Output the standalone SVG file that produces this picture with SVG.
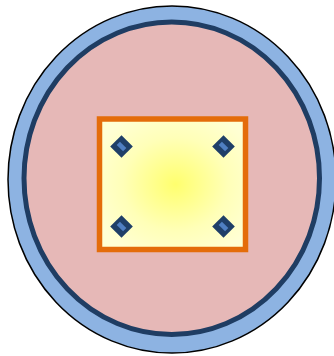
<svg xmlns="http://www.w3.org/2000/svg" width="334" height="356" viewBox="0 0 334 356">
  <defs>
    <radialGradient id="glow" cx="0.52" cy="0.5" r="0.6">
      <stop offset="0" stop-color="#ffff6e"/>
      <stop offset="0.6" stop-color="#ffffb8"/>
      <stop offset="1" stop-color="#ffffd4"/>
    </radialGradient>
    <g id="pin">
      <rect x="-8" y="-8" width="16" height="16" transform="rotate(45)" fill="#1f3f68"/>
      <rect x="-4.5" y="-2.3" width="9" height="4.6" transform="rotate(45)" fill="#4f7fc2"/>
    </g>
  </defs>
  <style>
    .outer { fill: #8db3e2; stroke: #000000; stroke-width: 1.5; }
    .inner { fill: #e6b8b7; stroke: #1f3d63; stroke-width: 5; }
    .box { fill: url(#glow); stroke: #e46c0a; stroke-width: 5.5; }
  </style>
  <rect width="334" height="356" fill="#ffffff"/>
  <g id="shell">
    <ellipse class="outer" cx="172" cy="179.5" rx="164" ry="173.5"/>
  </g>
  <g id="body">
    <ellipse class="inner" cx="171.75" cy="178.25" rx="147.75" ry="156.25"/>
  </g>
  <g id="chip">
    <rect class="box" x="99.5" y="119" width="146" height="130.5"/>
  </g>
  <g id="pins">
    <use href="#pin" x="121.5" y="146.5"/>
    <use href="#pin" x="223.5" y="146.5"/>
    <use href="#pin" x="121.5" y="226.5"/>
    <use href="#pin" x="223.5" y="226.5"/>
  </g>
  <g id="connectors"/>
</svg>
